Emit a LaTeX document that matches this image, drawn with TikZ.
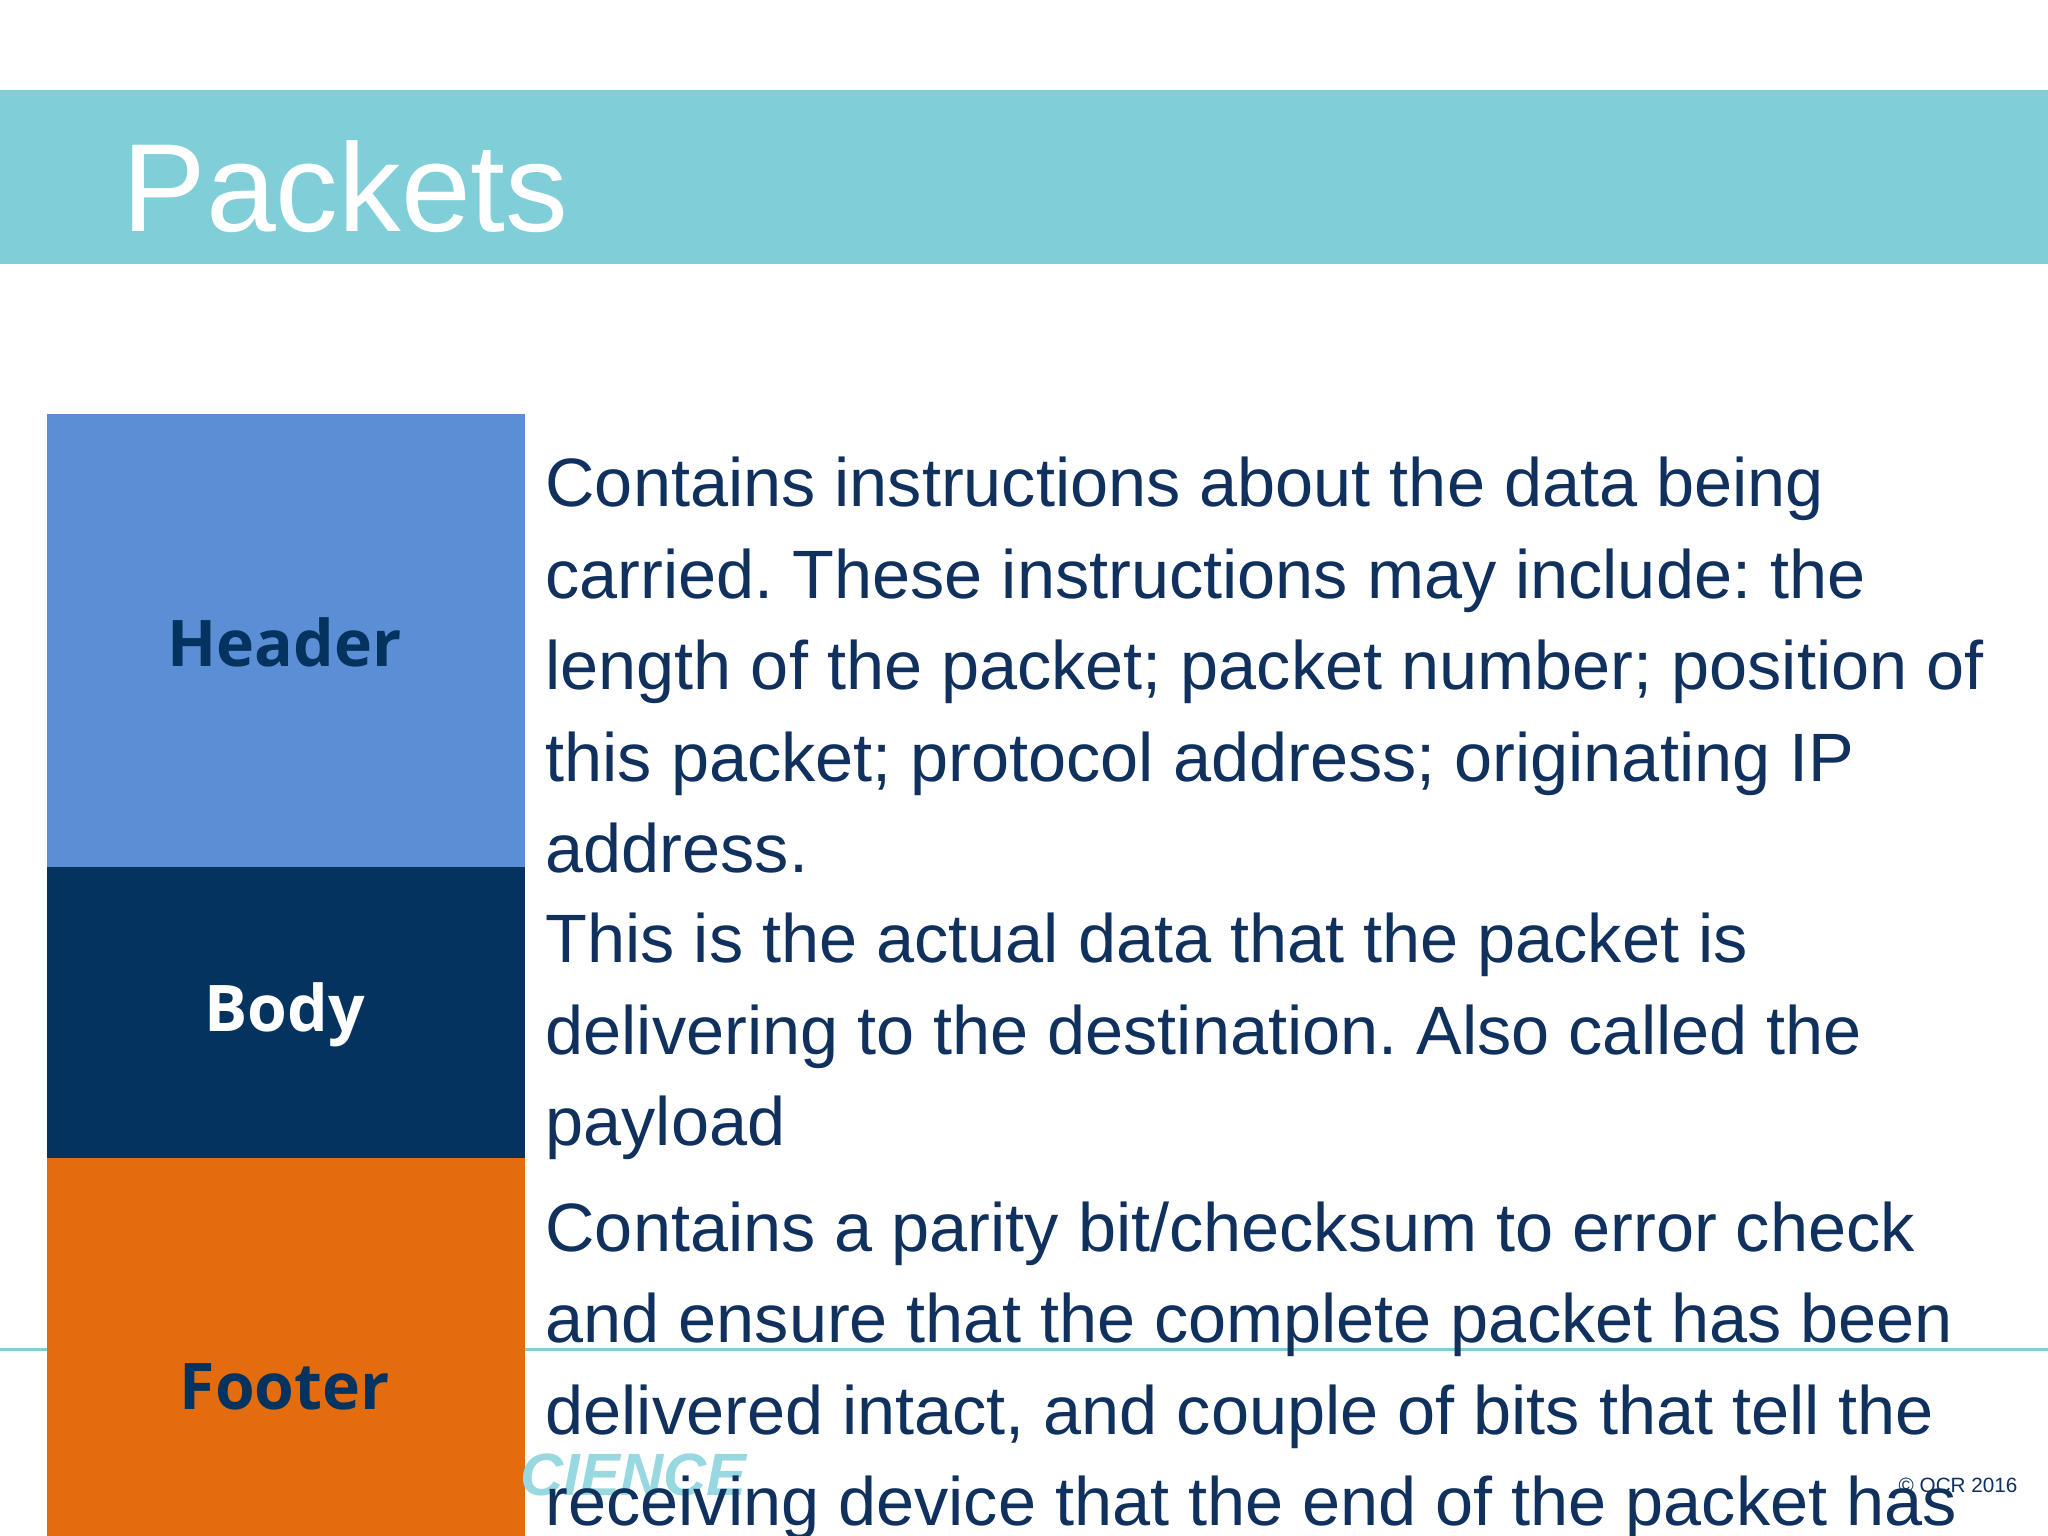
\documentclass[tikz,border=0pt]{standalone}
\usepackage{fontspec}
\setmainfont{Liberation Sans}
\newfontfamily\boldf{Open Sans}
\frenchspacing
\begin{document}
\begin{tikzpicture}[x=0.01cm,y=-0.01cm,
  txt/.style={anchor=base west,inner sep=0pt,text=navy,font=\fontsize{14.9}{17}\selectfont},
  lab/.style={font=\boldf\bfseries\fontsize{14}{17}\selectfont},
  box/.style={rectangle,minimum width=3.66cm,inner sep=0pt,anchor=north west}]
\definecolor{teal}{HTML}{7FCED8}
\definecolor{navy}{HTML}{10305E}
\definecolor{hblue}{HTML}{5A8FD6}
\definecolor{bnavy}{HTML}{04335F}
\definecolor{forange}{HTML}{E36C0E}
\useasboundingbox (0,0) rectangle (1568,1176);
\clip (0,0) rectangle (1568,1176);
\fill[white] (0,0) rectangle (1568,1176);
\fill[teal] (0,69) rectangle (1568,202);
\node[anchor=base west,inner sep=0pt,text=white,font=\fontsize{27.3}{33}\selectfont] (title) at (93,177) {Packets};
\draw[teal,line width=0.6pt] (0,1033) -- (1568,1033);
\node[box,fill=hblue,minimum height=3.47cm] (h) at (35,316) {};
\node[box,fill=bnavy,minimum height=2.23cm] (b) at (35,663) {};
\node[box,fill=forange,minimum height=3.0cm] (f) at (35,886) {};
\node[anchor=base west,inner sep=0pt,text=teal!80,font=\fontsize{13}{15}\selectfont\bfseries\itshape] (sci) at (398,1145) {CIENCE};
\node[lab,text=bnavy] (hl) at (218,492) {Header};
\node[lab,text=white] (bl) at (218,777) {Body};
\node[lab,text=bnavy] (fl) at (218,1062) {Footer};
\node[txt] (t1) at (417,388) {Contains instructions about the data being};
\node[txt] (t2) at (417,458) {carried. These instructions may include: the};
\node[txt] (t3) at (417,528) {length of the packet; packet number; position of};
\node[txt] (t4) at (417,598) {this packet; protocol address; originating IP};
\node[txt] (t5) at (417,668) {address.};
\node[txt] (t6) at (417,737) {This is the actual data that the packet is};
\node[txt] (t7) at (417,807) {delivering to the destination. Also called the};
\node[txt] (t8) at (417,877) {payload};
\node[txt] (t9) at (417,958) {Contains a parity bit/checksum to error check};
\node[txt] (t10) at (417,1028) {and ensure that the complete packet has been};
\node[txt] (t11) at (417,1098) {delivered intact, and couple of bits that tell the};
\node[txt] (t12) at (417,1168) {receiving device that the end of the packet has};
\node[anchor=base west,inner sep=0pt,text=navy,font=\fontsize{4.5}{5}\selectfont] (c) at (1453,1143) {© OCR 2016};
\end{tikzpicture}
\end{document}
